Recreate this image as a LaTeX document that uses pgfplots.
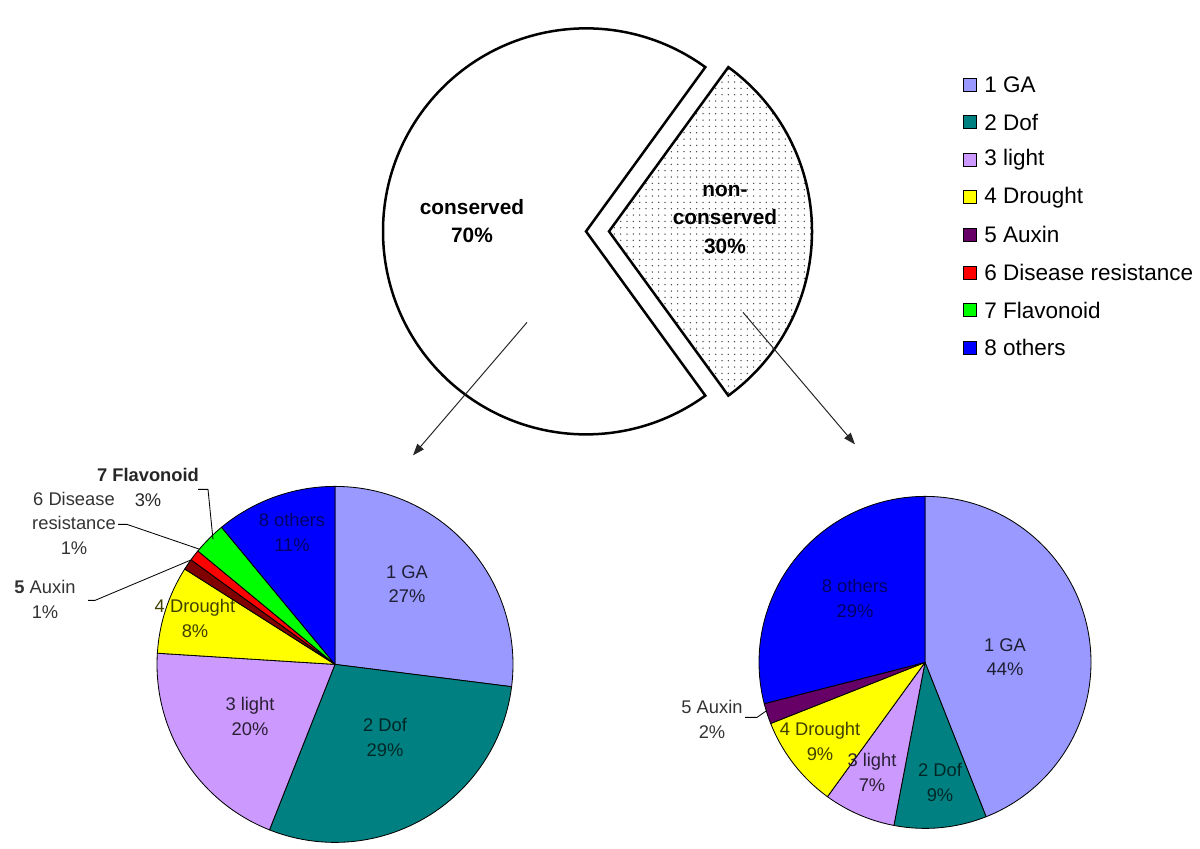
\documentclass[border=0pt]{standalone}
\usepackage{pgfplots}
\pgfplotsset{compat=1.18}
\usepackage{fontspec}
\setmainfont{Liberation Sans}
\usetikzlibrary{patterns.meta,arrows.meta}

\definecolor{cGA}{RGB}{153,153,255}
\definecolor{cDof}{RGB}{0,128,128}
\definecolor{cLight}{RGB}{204,153,255}
\definecolor{cDrought}{RGB}{255,255,0}
\definecolor{cAuxin}{RGB}{102,0,102}
\definecolor{cAuxinL}{RGB}{128,0,0}
\definecolor{cDisease}{RGB}{255,0,0}
\definecolor{cFlav}{RGB}{0,255,0}
\definecolor{cOthers}{RGB}{0,0,255}

% one pie slice: centre x, centre y, radius, from %, to %, colour
\newcommand{\slice}[6]{%
  \filldraw[fill=#6, draw=black, line width=0.5pt, line join=round]
    (axis cs:#1,#2) -- ++({90-3.6*#4}:#3)
    arc[start angle={90-3.6*#4}, end angle={90-3.6*#5}, radius=#3] -- cycle;}
% slice label: x, y, text, colour
\newcommand{\lbl}[4]{%
  \node[align=center, text=#4, inner sep=0pt,
        font=\fontsize{11}{14.5}\selectfont] at (axis cs:#1,#2) {#3};}
% legend row: y, colour, text
\newcommand{\leg}[3]{%
  \filldraw[fill=#2, draw=black, line width=0.4pt]
    (axis cs:963.5,#1-6.5) rectangle (axis cs:976.5,#1+6.5);
  \node[anchor=west, inner sep=0pt, font=\fontsize{13.5}{15}\selectfont]
    at (axis cs:984,#1) {#3};}

\begin{document}
\begin{tikzpicture}
\begin{axis}[
  x=0.6pt, y=0.6pt,
  xmin=0, xmax=1200, ymin=0, ymax=831,
  y dir=reverse,
  hide axis,
  clip=false,
]
\path (axis cs:0,0) rectangle (axis cs:1200,831);

% top pie: conserved 70 / non-conserved 30
\draw[fill=white, line width=1.5pt, line join=miter]
  (axis cs:586,214) -- ++(54:121.8pt) arc[start angle=54, end angle=306, radius=121.8pt] -- cycle;
\draw[pattern={Dots[distance=3.8pt, radius=0.45pt]}, pattern color=black!75,
      line width=1.5pt, line join=miter]
  (axis cs:609,214) -- ++(-54:121.8pt) arc[start angle=-54, end angle=54, radius=121.8pt] -- cycle;
\node[align=center, font=\fontsize{12.5}{17}\selectfont\bfseries]
  at (axis cs:472,204) {conserved\\70\%};
\node[align=center, font=\fontsize{12.5}{17}\selectfont\bfseries]
  at (axis cs:725,202) {non-\\conserved\\30\%};

% arrows
\draw[black!85, line width=0.6pt, -{Triangle[length=7pt, width=5pt]}]
  (axis cs:527,305) -- (axis cs:413,438);
\draw[black!85, line width=0.6pt, -{Triangle[length=7pt, width=5pt]}]
  (axis cs:743,295) -- (axis cs:855,427);

% conserved: 27 29 20 8 1 1 3 11
\slice{335}{647}{106.8pt}{0}{27}{cGA}
\slice{335}{647}{106.8pt}{27}{56}{cDof}
\slice{335}{647}{106.8pt}{56}{76}{cLight}
\slice{335}{647}{106.8pt}{76}{84}{cDrought}
\slice{335}{647}{106.8pt}{84}{85}{cAuxinL}
\slice{335}{647}{106.8pt}{85}{86}{cDisease}
\slice{335}{647}{106.8pt}{86}{89}{cFlav}
\slice{335}{647}{106.8pt}{89}{100}{cOthers}

\lbl{407}{567}{1 GA\\27\%}{cGA!20!black}
\lbl{385}{720}{2 Dof\\29\%}{cDof!30!black}
\lbl{250}{699}{3 light\\20\%}{cLight!20!black}
\lbl{195}{601}{4 Drought\\8\%}{cDrought!25!black}
\lbl{292}{515}{8 others\\11\%}{cOthers!40!black}
\lbl{148}{470}{\textbf{7 Flavonoid}\\3\%}{black!85}
\lbl{74}{506}{6 Disease\\resistance\\1\%}{black!80}
\lbl{45}{582}{\textbf{5} Auxin\\1\%}{black!80}

\draw[line width=0.5pt] (axis cs:198,472) -- (axis cs:208,472) -- (axis cs:213,522);
\draw[line width=0.5pt] (axis cs:118,507) -- (axis cs:127,507) -- (axis cs:200,532);
\draw[line width=0.5pt] (axis cs:88,583) -- (axis cs:95,583) -- (axis cs:190,543);

% non-conserved: 44 9 7 9 2 29
\slice{925}{645}{99.6pt}{0}{44}{cGA}
\slice{925}{645}{99.6pt}{44}{53}{cDof}
\slice{925}{645}{99.6pt}{53}{60}{cLight}
\slice{925}{645}{99.6pt}{60}{69}{cDrought}
\slice{925}{645}{99.6pt}{69}{71}{cAuxin}
\slice{925}{645}{99.6pt}{71}{100}{cOthers}

\lbl{1005}{640}{1 GA\\44\%}{cGA!20!black}
\lbl{940}{765}{2 Dof\\9\%}{cDof!30!black}
\lbl{872}{755}{3 light\\7\%}{cLight!20!black}
\lbl{820}{724}{4 Drought\\9\%}{cDrought!25!black}
\lbl{855}{581}{8 others\\29\%}{cOthers!40!black}
\lbl{712}{702}{5 Auxin\\2\%}{black!80}
\draw[line width=0.5pt] (axis cs:745,700) -- (axis cs:757,700) -- (axis cs:767,693);

% legend
\leg{67}{cGA}{1 GA}
\leg{104.6}{cDof}{2 Dof}
\leg{142.2}{cLight}{3 light}
\leg{179.8}{cDrought}{4 Drought}
\leg{217.4}{cAuxin}{5 Auxin}
\leg{255}{cDisease}{6 Disease resistance}
\leg{292.6}{cFlav}{7 Flavonoid}
\leg{330.2}{cOthers}{8 others}
\end{axis}
\end{tikzpicture}
\end{document}
